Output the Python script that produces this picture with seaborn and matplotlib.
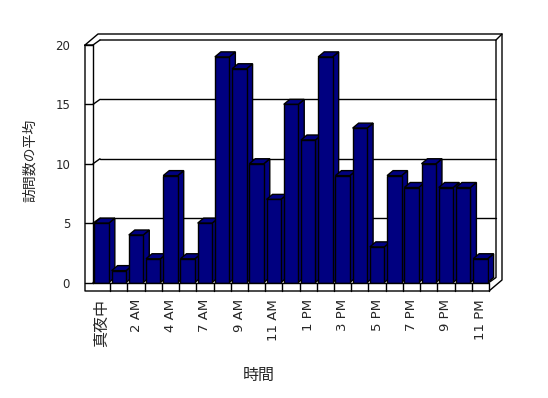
import matplotlib
matplotlib.use('Agg')
import matplotlib.pyplot as plt
import seaborn as sns
import pandas as pd
from matplotlib.patches import Polygon
from matplotlib.lines import Line2D
from matplotlib.transforms import IdentityTransform

# average visits per hour (one hour missing in the source data)
hours = ['真夜中', '1 AM', '2 AM', '3 AM', '4 AM', '5 AM', '7 AM', '8 AM', '9 AM', '10 AM',
         '11 AM', '12 PM', '1 PM', '2 PM', '3 PM', '4 PM', '5 PM', '6 PM', '7 PM', '8 PM',
         '9 PM', '10 PM', '11 PM']
avg_visits = [5, 1, 4, 2, 9, 2, 5, 19, 18, 10, 7, 15, 12, 19, 9, 13, 3, 9, 8, 10, 8, 8, 2]
y_ticks = [0, 5, 10, 15, 20]

NAVY = '#000080'
WALL = 8        # left wall thickness (px)
FLOOR = 8.5     # floor thickness (px)
D1 = (7, 5)     # depth of back wall (px)
D2 = (13, 11)   # outer shell offset (px)
BAR_D = (6, 5)  # bar depth (px)

sns.set_style('white')
plt.rcParams['font.family'] = ['DejaVu Sans', 'Noto Sans CJK JP']

df = pd.DataFrame({'hour': hours, 'visits': avg_visits})
n = len(df)

fig = plt.figure(figsize=(5.48, 3.98), dpi=100)
ax = fig.add_axes([93 / 548, 1 - 282.5 / 398, 396 / 548, 237.5 / 398])

sns.barplot(data=df, x='hour', y='visits', order=hours, color=NAVY, saturation=1,
            width=0.84, edgecolor='black', linewidth=1, errorbar=None, ax=ax)
bars = list(ax.patches)

ax.set_xlim(-0.5, n - 0.5)
ax.set_ylim(0, 20)
ax.autoscale(False)
for s in ax.spines.values():
    s.set_visible(False)
ax.set_facecolor('none')

L, R = ax.get_xlim()
B, T = ax.get_ylim()


def px(x, y, dx=0.0, dy=0.0):
    X, Y = ax.transData.transform((x, y))
    return (X + dx, Y + dy)


def seg(points, z=3):
    xs, ys = zip(*points)
    ax.add_line(Line2D(xs, ys, transform=IdentityTransform(), clip_on=False,
                       color='black', lw=1, zorder=z))


# back wall gridlines, left wall inner face and front ticks
for v in y_ticks:
    if B < v < T:
        seg([px(L, v, *D1), px(R, v, *D1)], z=1)
    seg([px(L, v), px(L, v, *D1)], z=1)
    seg([px(L, v, -WALL, 0), px(L, v)])

# inner edges of the back wall
seg([px(L, T, *D1), px(R, T, *D1), px(R, B, *D1), px(R, B)], z=1)
seg([px(R, T, *D1), px(R, T, *D2)])
# outer shell
seg([px(L, T), px(L, T, -WALL, 0), px(L, T, -WALL + D2[0], D2[1]), px(R, T, *D2),
     px(R, B, D2[0], D2[1] - FLOOR), px(R, B, 0, -FLOOR), px(L, B, -WALL, -FLOOR),
     px(L, T, -WALL, 0)])
seg([px(L, T), px(L, B)])
# floor front face with category cells
seg([px(L, B), px(R, B), px(R, B, 0, -FLOOR)])
for k in range(n - 1):
    seg([px(k + 0.5, B), px(k + 0.5, B, 0, -FLOOR)])

# bar depth faces
for i, p in enumerate(bars):
    x0, w, h = p.get_x(), p.get_width(), p.get_height()
    z = 2 + i * 0.01
    p.set_zorder(z + 0.005)
    side = [px(x0 + w, 0), px(x0 + w, h), px(x0 + w, h, *BAR_D), px(x0 + w, 0, *BAR_D)]
    top = [px(x0, h), px(x0 + w, h), px(x0 + w, h, *BAR_D), px(x0, h, *BAR_D)]
    for pts in (side, top):
        ax.add_patch(Polygon(pts, closed=True, transform=IdentityTransform(), clip_on=False,
                             facecolor=NAVY, edgecolor='black', lw=1, zorder=z))

ax.set_yticks(y_ticks)
ax.tick_params(axis='y', length=0, pad=16.5, labelsize=8.5)
ax.set_xticks(range(0, n, 2))
ax.set_xticklabels(hours[::2], rotation=90)
ax.tick_params(axis='x', length=0, pad=12, labelsize=9.5)
ax.get_xticklabels()[0].set_fontsize(11.5)

ax.set_xlabel('時間', fontsize=11.5)
ax.xaxis.set_label_coords((258.7 - 93) / 396, (282.5 - 368) / 237.5)
ax.set_ylabel('訪問数の平均', fontsize=10)
ax.yaxis.set_label_coords((37 - 93) / 396, (282.5 - 160) / 237.5)

fig.savefig('out.png', dpi=100)
